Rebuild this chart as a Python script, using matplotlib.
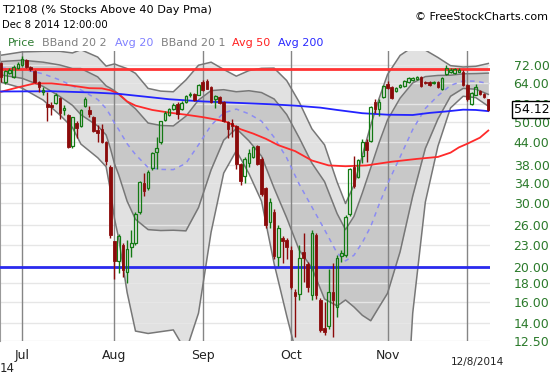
import numpy as np
import pandas as pd
import matplotlib
matplotlib.use("Agg")
import matplotlib.pyplot as plt
from matplotlib.ticker import NullLocator, NullFormatter
from matplotlib.transforms import blended_transform_factory

# trading days on the chart (Jun 24 - Dec 8 2014)
dates = pd.bdate_range("2014-06-24", "2014-12-08", freq="C",
                       holidays=["2014-07-04", "2014-09-01", "2014-11-27"])

opens = [72.5, 64.5, 68.3, 66.7, 70.4, 71.8, 74.1, 71.0, 69.2, 64.5,
         60.4, 56.0, 55.6, 56.5, 58.3, 53.9, 52.2, 43.1, 49.8, 48.9,
         55.5, 53.9, 51.5, 47.7, 48.0, 44.2, 37.7, 23.5, 20.8, 22.9,
         19.4, 22.6, 23.2, 28.3, 34.0, 32.9, 37.3, 41.5, 44.0, 50.7,
         52.4, 54.2, 56.2, 54.5, 56.9, 59.3, 59.9, 59.5, 64.5, 64.9,
         62.5, 57.7, 58.7, 56.9, 50.0, 49.6, 48.7, 38.4, 35.5, 38.5,
         40.1, 43.0, 39.6, 32.9, 26.5, 28.3, 21.3, 24.0, 23.7, 22.2,
         17.0, 16.8, 21.9, 20.4, 16.7, 24.5, 16.2, 13.6, 13.7, 17.0,
         15.5, 21.4, 21.5, 27.9, 37.7, 35.4, 40.4, 44.2, 44.4, 56.9,
         54.2, 58.7, 63.7, 62.5, 61.0, 62.5, 62.9, 64.5, 65.3, 65.7,
         66.6, 64.6, 64.6, 63.9, 64.6, 61.7, 67.9, 68.8, 68.1, 68.8,
         68.8, 63.3, 56.2, 59.5, 61.0, 59.9, 57.7]
highs = [73.0, 69.5, 70.5, 71.8, 73.0, 76.0, 74.8, 71.5, 69.6, 64.8,
         62.3, 60.7, 56.9, 60.0, 58.6, 55.6, 52.5, 51.8, 50.2, 54.5,
         58.5, 55.5, 52.0, 49.0, 49.5, 44.4, 38.0, 23.6, 24.6, 23.2,
         23.7, 25.2, 28.2, 34.5, 36.2, 36.8, 41.5, 45.5, 50.5, 53.5,
         54.6, 56.5, 56.9, 57.0, 59.5, 60.5, 60.2, 63.7, 65.3, 65.6,
         63.0, 59.5, 59.0, 57.2, 50.5, 50.9, 49.0, 38.6, 40.0, 42.2,
         43.0, 43.3, 40.0, 33.2, 31.0, 28.8, 26.0, 24.3, 24.0, 22.8,
         17.4, 22.9, 24.8, 20.6, 25.2, 24.8, 16.4, 16.0, 19.7, 20.5,
         21.6, 22.2, 27.8, 37.5, 40.4, 39.6, 44.9, 45.0, 55.5, 58.0,
         57.7, 63.3, 65.0, 63.0, 62.5, 63.7, 65.3, 66.6, 66.6, 67.0,
         67.0, 65.0, 65.0, 65.0, 65.0, 66.4, 72.0, 70.5, 70.5, 70.4,
         69.5, 63.6, 60.6, 63.7, 61.4, 60.2, 58.0]
lows = [64.5, 63.8, 67.8, 66.0, 70.0, 71.3, 70.5, 69.0, 64.0, 60.4,
        59.3, 50.5, 52.2, 56.0, 51.0, 52.2, 42.4, 42.5, 45.3, 48.5,
        55.0, 51.6, 47.0, 44.0, 43.8, 38.0, 24.0, 18.5, 19.2, 18.7,
        18.0, 21.3, 23.0, 28.0, 31.3, 32.5, 37.0, 37.1, 43.5, 50.5,
        52.0, 54.0, 50.9, 54.0, 56.5, 58.7, 57.2, 59.2, 61.0, 61.5,
        56.5, 54.8, 56.0, 50.0, 45.3, 45.5, 37.2, 33.6, 34.0, 37.7,
        39.8, 38.0, 31.3, 25.5, 25.5, 21.0, 20.1, 20.5, 21.0, 17.4,
        12.8, 16.2, 18.2, 17.0, 16.2, 16.3, 13.2, 13.0, 13.5, 12.8,
        14.5, 20.6, 21.3, 27.6, 33.0, 35.0, 38.6, 38.9, 44.0, 53.0,
        52.0, 58.4, 61.8, 58.0, 60.5, 62.0, 62.5, 64.0, 64.9, 65.3,
        62.5, 63.5, 63.0, 63.5, 62.2, 61.3, 67.5, 68.4, 67.7, 68.5,
        63.0, 57.3, 55.8, 59.2, 59.5, 58.4, 53.5]
closes = [66.5, 69.2, 69.6, 71.0, 72.2, 74.6, 71.0, 69.9, 64.5, 62.4,
          61.4, 55.0, 55.0, 59.5, 53.0, 54.8, 42.6, 51.5, 48.3, 53.9,
          58.0, 52.5, 47.4, 46.7, 44.0, 39.0, 24.5, 20.7, 24.3, 19.6,
          22.4, 23.2, 27.9, 34.2, 32.4, 36.5, 41.2, 42.4, 50.2, 53.1,
          54.2, 55.6, 52.5, 56.6, 59.1, 59.9, 57.5, 63.3, 61.4, 61.8,
          56.9, 59.1, 56.6, 50.3, 47.8, 48.7, 38.4, 34.5, 39.6, 41.0,
          42.7, 38.4, 31.8, 26.0, 30.2, 21.4, 25.6, 23.5, 22.7, 17.6,
          16.6, 21.1, 21.2, 17.6, 24.8, 16.7, 13.4, 13.2, 17.0, 16.2,
          21.1, 21.8, 27.4, 37.2, 33.3, 39.3, 44.2, 41.8, 55.1, 54.2,
          56.9, 62.9, 62.2, 58.4, 62.2, 63.3, 64.9, 66.2, 66.2, 66.6,
          62.9, 63.9, 63.3, 64.6, 62.6, 66.0, 70.3, 69.6, 69.8, 69.6,
          63.3, 57.7, 60.2, 62.5, 59.9, 58.7, 54.12]

# 20 day average and its standard deviation, read at a subset of bars
band_idx = [0, 5, 10, 14, 17, 19, 23, 25, 26, 27, 28, 30, 32, 35, 38, 41, 44,
            47, 50, 53, 56, 59, 62, 65, 68, 71, 74, 77, 80, 82, 84, 86, 88,
            90, 92, 95, 98, 101, 104, 107, 110, 113, 116]
avg20 = [70.4, 70.0, 67.9, 65.3, 62.9, 61.3, 57.7, 54.5, 52.2, 49.7, 47.7,
         43.6, 40.7, 37.5, 37.05, 37.0, 38.5, 43.3, 49.0, 53.0, 54.3, 52.7,
         50.3, 45.4, 39.85, 33.7, 29.2, 25.3, 21.8, 20.75, 21.5, 23.3, 25.8,
         29.7, 33.8, 40.1, 47.7, 54.5, 59.1, 63.1, 64.9, 64.8, 63.9]
sd20 = [3.0, 4.0, 5.2, 6.5, 7.3, 8.9, 8.9, 8.4, 9.8, 11.3, 11.9, 13.3, 13.7,
        12.2, 11.9, 11.8, 13.4, 14.2, 12.05, 8.4, 6.3, 8.3, 10.0, 12.5, 12.6,
        11.5, 9.35, 9.0, 6.2, 4.55, 6.0, 8.6, 11.6, 14.2, 16.9, 18.1, 16.4,
        12.2, 8.1, 4.2, 3.0, 3.2, 4.3]

ma50_idx = [0, 4, 8, 12, 16, 21, 24, 26, 28, 30, 32, 36, 40, 44, 48, 52, 54,
            57, 60, 63, 66, 70, 74, 78, 82, 87, 93, 99, 104, 107, 109, 111,
            114, 116]
ma50 = [60.6, 62.3, 63.9, 63.9, 63.2, 62.0, 61.9, 61.2, 59.8, 57.0, 55.5,
        54.0, 53.1, 52.4, 51.6, 50.6, 49.9, 47.8, 46.5, 45.0, 43.2, 41.6,
        39.2, 38.0, 37.8, 38.0, 38.9, 39.6, 40.1, 41.2, 42.6, 43.6, 45.3, 47.4]

ma200_idx = [0, 12, 22, 28, 34, 40, 48, 56, 64, 70, 76, 80, 86, 92, 98, 102,
             106, 110, 113, 116]
ma200 = [60.7, 60.8, 60.3, 59.8, 58.8, 57.8, 57.0, 56.5, 56.0, 55.5, 54.8,
         54.0, 52.9, 52.4, 52.3, 53.0, 53.5, 54.1, 54.0, 53.6]

ytick_vals = [12.5, 14, 16, 18, 20, 23, 26, 30, 34, 38, 44, 50, 56, 64, 72]
upper_level = 70
lower_level = 20

GREEN = "#137a13"
RED = "#8b0a0a"

fig = plt.figure(figsize=(5.5, 3.75), dpi=100)
ax = fig.add_axes([0, 1 - 341 / 375, 490 / 550, 290 / 375])

x = np.arange(len(dates))
o, h, l, c = map(np.array, (opens, highs, lows, closes))

# bollinger bands
bi = np.array(band_idx)
m = np.array(avg20)
s = np.array(sd20)
up2, lo2 = m + 2 * s, np.clip(m - 2 * s, 1, None)
up1, lo1 = m + s, np.clip(m - s, 1, None)
ax.fill_between(bi, lo2, up2, color="#e1e1e1", lw=0, zorder=1)
ax.fill_between(bi, lo1, up1, color="#c8c8c8", lw=0, zorder=1.1)

for v in ytick_vals:
    ax.axhline(v, color="#e6e6e6", lw=1, zorder=1.5)

# month lines
months = dates.month
month_starts = [i for i in range(1, len(dates)) if months[i] != months[i - 1]]
for i in month_starts:
    ax.axvline(i, color="#858585", lw=1, zorder=1.6)

for band in (up2, lo2, up1, lo1):
    ax.plot(bi, band, color="#777777", lw=1.1, zorder=2)
ax.plot(bi, m, color="#8c8cf2", lw=1.1, ls=(0, (3, 3)), zorder=2.2)

ax.plot(ma50_idx, ma50, color="#ff2a2a", lw=1.3, zorder=3)
ax.plot(ma200_idx, ma200, color="#2323ff", lw=1.3, zorder=3)
ax.axhline(upper_level, color="#ff3333", lw=2, zorder=3)
ax.axhline(lower_level, color="#2a2aee", lw=2, zorder=3)

# candles
up = c >= o
body_lo = np.minimum(o, c)
body_hi = np.maximum(o, c)
cols = np.where(up, GREEN, RED)
ax.vlines(x, body_hi, h, color=cols, lw=1, zorder=4)
ax.vlines(x, l, body_lo, color=cols, lw=1, zorder=4)
ax.bar(x[~up], (body_hi - body_lo)[~up], bottom=body_lo[~up], width=0.62,
       color=RED, edgecolor=RED, lw=0.6, zorder=4.5)
ax.bar(x[up], (body_hi - body_lo)[up], bottom=body_lo[up], width=0.62,
       facecolor="none", edgecolor=GREEN, lw=0.9, zorder=4.5)

ax.set_yscale("log")
ax.set_ylim(12.49, 78.46)
ax.set_xlim(-0.26, 116.4)

ax.yaxis.tick_right()
ax.set_yticks(ytick_vals)
ax.set_yticklabels([f"{v:.2f}" for v in ytick_vals])
ax.yaxis.set_minor_locator(NullLocator())
ax.yaxis.set_minor_formatter(NullFormatter())
ax.tick_params(axis="y", length=0, pad=17, labelsize=9, labelcolor="#2b7a2b")

ax.set_xticks(month_starts[:-1])
ax.set_xticklabels([dates[i].strftime("%b") for i in month_starts[:-1]])
ax.tick_params(axis="x", length=0, pad=6, labelsize=9, labelcolor="#222222")

for side in ("top", "right", "bottom"):
    ax.spines[side].set_visible(False)
ax.spines["left"].set_color("#999999")

# last price tag
tr = blended_transform_factory(ax.transAxes, ax.transData)
ax.text(532 / 490, closes[-1], f"{closes[-1]:.2f}", transform=tr, ha="center",
        va="center", fontsize=9, color="black", clip_on=False, zorder=10,
        bbox=dict(boxstyle="square,pad=0.15", fc="white", ec="black", lw=1))

# header texts
fig.text(2 / 550, 1 - 10 / 375, "T2108 (% Stocks Above 40 Day Pma)",
         fontsize=8.1, va="center", ha="left")
fig.text(2 / 550, 1 - 25 / 375, "Dec 8 2014 12:00:00", fontsize=7.3,
         va="center", ha="left")
fig.text(548 / 550, 1 - 17 / 375, "© FreeStockCharts.com", fontsize=8,
         va="center", ha="right")
legend_items = [("Price", 8, "#2e7d32"), ("BBand 20 2", 42, "#808080"),
                ("Avg 20", 115, "#8080ff"), ("BBand 20 1", 161, "#808080"),
                ("Avg 50", 232, "#ff2020"), ("Avg 200", 278, "#2a2aff")]
for label, px, col in legend_items:
    fig.text(px / 550, 1 - 43 / 375, label, fontsize=8, color=col,
             va="center", ha="left")

fig.text(477 / 550, 1 - 362 / 375, "12/8/2014", fontsize=7.5, ha="center",
         va="center", color="#222222")
fig.text(0, 1 - 369 / 375, "14", fontsize=8.5, ha="left", va="center",
         color="#222222")

fig.savefig("out.png", dpi=100, facecolor="white")
